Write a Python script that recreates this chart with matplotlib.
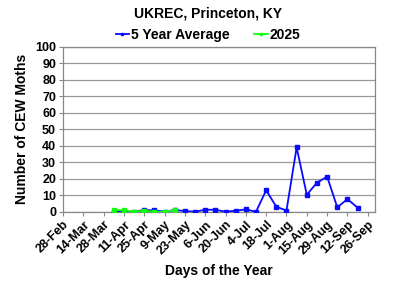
import pandas as pd
import matplotlib
matplotlib.use("Agg")
import matplotlib.pyplot as plt

plt.rcParams['font.family'] = ['Liberation Sans', 'DejaVu Sans']
plt.rcParams['font.weight'] = 'bold'

# weekly trap dates
avg_dates = pd.date_range('2025-04-04', '2025-09-19', freq='7D')
avg_counts = [0, 0.3, 0, 1, 0.8, 0, 1, 0.4, 0, 1.2, 1.2, 0, 0.6, 1.4, 0,
              13, 3, 0.7, 39, 10.3, 17.6, 21.3, 2.7, 7.6, 2.5]
cur_dates = pd.date_range('2025-04-04', '2025-05-16', freq='7D')
cur_counts = [1, 0.8, 0, 0.6, 0, 0, 1]

tick_dates = pd.date_range('2025-02-28', '2025-09-26', freq='14D')
tick_labels = ['28-Feb', '14-Mar', '28-Mar', '11-Apr', '25-Apr', '9-May',
               '23-May', '6-Jun', '20-Jun', '4-Jul', '18-Jul', '1-Aug',
               '15-Aug', '29-Aug', '12-Sep', '26-Sep']

fig = plt.figure(figsize=(4, 2.91), dpi=100)
ax = fig.add_axes([0.1575, 0.2725, 0.78, 0.566])

ax.plot(avg_dates, avg_counts, color='#0a0aff', lw=1.3, marker='s', ms=3,
        label='5 Year Average', zorder=3)
ax.plot(cur_dates, cur_counts, color='#11ff11', lw=1.3, marker='s', ms=3,
        label='2025', zorder=4)

ax.set_xlim(pd.Timestamp('2025-02-28'), pd.Timestamp('2025-10-01'))
ax.set_ylim(0, 100)
ax.set_yticks(range(0, 101, 10))
ax.set_xticks(tick_dates)
ax.set_xticklabels(tick_labels, rotation=45, ha='right', rotation_mode='anchor')
ax.tick_params(labelsize=9, color='#888888', length=3, width=0.8, pad=2)
ax.grid(axis='y', color='#999999', lw=0.9)
ax.set_axisbelow(True)
for s in ax.spines.values():
    s.set_color('#888888')
    s.set_linewidth(0.9)

ax.set_xlabel('Days of the Year', fontsize=10, fontweight='bold', labelpad=5)
ax.set_ylabel('Number of CEW Moths', fontsize=10, fontweight='bold', labelpad=4)
fig.text(0.52, 0.955, 'UKREC, Princeton, KY', ha='center', va='center',
         fontsize=10, fontweight='bold')
fig.legend(loc='center', bbox_to_anchor=(0.52, 0.88), ncol=2, frameon=False,
           fontsize=10, handlelength=1.0, handletextpad=0.1, columnspacing=1.8,
           markerscale=0.7)

fig.savefig('out.png', dpi=100)
